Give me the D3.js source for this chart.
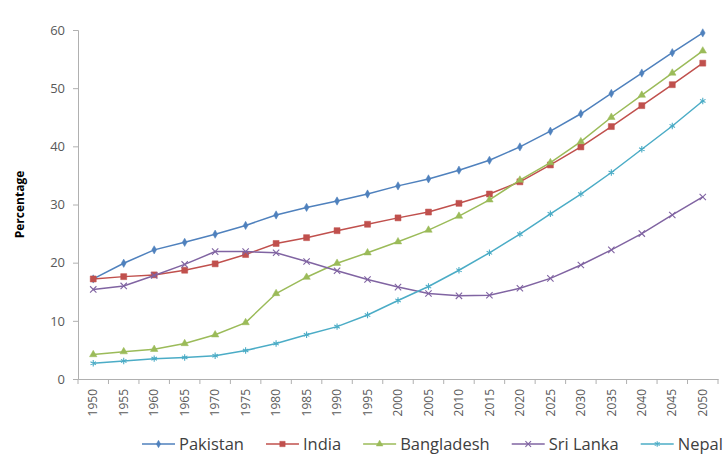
<!DOCTYPE html>
<html>
<head>
<meta charset="utf-8">
<script src="https://cdnjs.cloudflare.com/ajax/libs/d3/7.8.5/d3.min.js"></script>
<style>
  body { margin: 0; background: #fff; }
  text { font-family: "Open Sans", "DejaVu Sans", sans-serif; }
</style>
</head>
<body>
<div class="chart"></div>
<script>
var years = ['1950', '1955', '1960', '1965', '1970', '1975', '1980', '1985', '1990', '1995', '2000',
  '2005', '2010', '2015', '2020', '2025', '2030', '2035', '2040', '2045', '2050']
var pakistan = [17.2, 19.9, 22.2, 23.5, 24.9, 26.4, 28.2, 29.5, 30.6, 31.8, 33.2,
  34.4, 35.9, 37.6, 39.9, 42.6, 45.6, 49.1, 52.6, 56.1, 59.5]
var india = [17.2, 17.6, 17.9, 18.7, 19.8, 21.4, 23.3, 24.3, 25.5, 26.6, 27.7,
  28.7, 30.2, 31.8, 33.9, 36.8, 39.9, 43.4, 47.0, 50.6, 54.3]
var bangladesh = [4.2, 4.7, 5.1, 6.1, 7.6, 9.7, 14.7, 17.5, 19.9, 21.7, 23.6,
  25.6, 28.0, 30.8, 34.2, 37.2, 40.8, 45.0, 48.8, 52.6, 56.4]
var sriLanka = [15.4, 16.0, 17.8, 19.7, 21.9, 21.9, 21.7, 20.2, 18.6, 17.1, 15.8,
  14.7, 14.3, 14.4, 15.6, 17.3, 19.6, 22.2, 25.0, 28.2, 31.3]
var nepal = [2.7, 3.1, 3.5, 3.7, 4.0, 4.9, 6.1, 7.6, 9.0, 11.0, 13.5,
  15.9, 18.7, 21.7, 24.9, 28.4, 31.8, 35.5, 39.5, 43.5, 47.8]
var yTicks = [0, 10, 20, 30, 40, 50, 60]

var series = [
  {name: 'Pakistan', values: pakistan, color: '#4F81BD', symbol: d3.symbolDiamond, size: 20, fill: true},
  {name: 'India', values: india, color: '#C0504D', symbol: d3.symbolSquare, size: 36, fill: true},
  {name: 'Bangladesh', values: bangladesh, color: '#9BBB59', symbol: d3.symbolTriangle, size: 24, fill: true},
  {name: 'Sri Lanka', values: sriLanka, color: '#8064A2', symbol: d3.symbolTimes || d3.symbolCross, size: 28, fill: false},
  {name: 'Nepal', values: nepal, color: '#4BACC6', symbol: d3.symbolAsterisk || d3.symbolCross, size: 28, fill: false}
]

var margin = {top: 30, right: 10, bottom: 96, left: 78}
var width = 728 - margin.left - margin.right
var height = 475 - margin.top - margin.bottom

var x = d3.scaleBand().domain(years).range([0, width])
var y = d3.scaleLinear().domain([0, 60]).range([height, 0])

var svg = d3.select('.chart')
  .append('svg')
  .attr('width', 728)
  .attr('height', 475)
  .append('g')
  .attr('transform', 'translate(' + margin.left + ',' + margin.top + ')')

// y axis
var yAxis = svg.append('g')
  .attr('class', 'axis axis--y')
  .call(d3.axisLeft(y).tickValues(yTicks).tickSize(5).tickPadding(8))
yAxis.select('.domain').attr('stroke', '#B0B0B0')
yAxis.selectAll('.tick line').attr('stroke', '#B0B0B0')
yAxis.selectAll('.tick text').attr('fill', '#595959').style('font-size', '13px')

// x axis, ticks at category boundaries
var xAxis = svg.append('g')
  .attr('class', 'axis axis--x')
  .attr('transform', 'translate(0,' + height + ')')
  .call(d3.axisBottom(x).tickSize(0).tickSizeOuter(0).tickPadding(0))
xAxis.select('.domain').attr('stroke', '#B0B0B0')
xAxis.selectAll('.tick text')
  .attr('fill', '#595959')
  .style('font-size', '12px')
  .attr('transform', 'rotate(-90)')
  .attr('text-anchor', 'end')
  .attr('x', -10)
  .attr('y', 0)
  .attr('dy', '0.35em')
xAxis.selectAll('.boundary')
  .data(years.concat(['end']))
  .enter()
  .append('line')
  .attr('class', 'boundary')
  .attr('x1', function(d, i) { return i * x.step() })
  .attr('x2', function(d, i) { return i * x.step() })
  .attr('y1', 0)
  .attr('y2', 5)
  .attr('stroke', '#B0B0B0')

svg.append('text')
  .attr('transform', 'rotate(-90)')
  .attr('x', -height / 2)
  .attr('y', 20 - margin.left)
  .attr('dy', '0.35em')
  .attr('text-anchor', 'middle')
  .attr('font-weight', 'bold')
  .style('font-size', '12px')
  .attr('fill', '#000')
  .text('Percentage')

var line = d3.line()
  .x(function(d, i) { return x(years[i]) + x.bandwidth() / 2 })
  .y(function(d) { return y(d) })

series.forEach(function(s) {
  var g = svg.append('g')
  g.append('path')
    .datum(s.values)
    .attr('fill', 'none')
    .attr('stroke', s.color)
    .attr('stroke-width', 1.5)
    .attr('d', line)
  g.selectAll('.marker')
    .data(s.values)
    .enter()
    .append('path')
    .attr('class', 'marker')
    .attr('d', d3.symbol().type(s.symbol).size(s.size))
    .attr('transform', function(d, i) {
      return 'translate(' + (x(years[i]) + x.bandwidth() / 2) + ',' + y(d) + ')'
    })
    .attr('fill', s.fill ? s.color : 'none')
    .attr('stroke', s.color)
    .attr('stroke-width', s.fill ? 0.5 : 1.1)
})

// legend
var legend = d3.select('svg').append('g').attr('transform', 'translate(142,444)')
var lx = 0
series.forEach(function(s) {
  var item = legend.append('g').attr('transform', 'translate(' + lx + ',0)')
  item.append('line')
    .attr('x1', 0).attr('x2', 33)
    .attr('y1', 0).attr('y2', 0)
    .attr('stroke', s.color)
    .attr('stroke-width', 1.5)
  item.append('path')
    .attr('d', d3.symbol().type(s.symbol).size(s.size * 0.8))
    .attr('transform', 'translate(16.5,0)')
    .attr('fill', s.fill ? s.color : 'none')
    .attr('stroke', s.color)
    .attr('stroke-width', s.fill ? 0.5 : 1.1)
  var t = item.append('text')
    .attr('x', 37)
    .attr('dy', '0.35em')
    .attr('fill', '#404040')
    .style('font-size', '16.5px')
    .text(s.name)
  lx += 37 + t.node().getComputedTextLength() + 22
})
</script>
</body>
</html>
